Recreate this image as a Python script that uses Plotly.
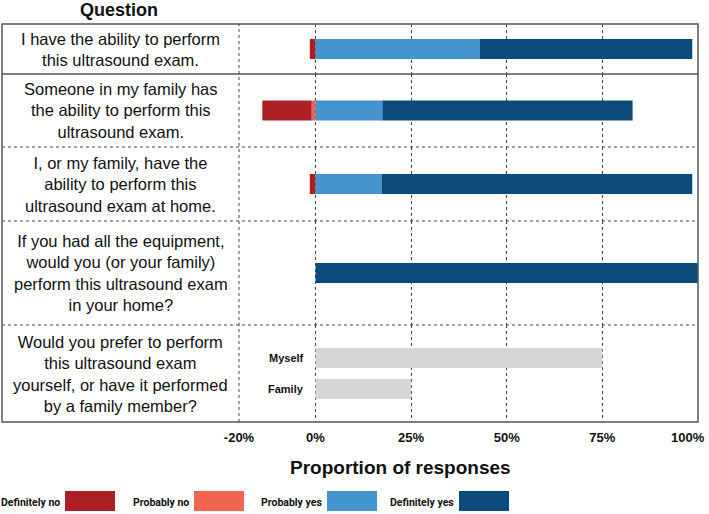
import plotly.graph_objects as go
from plotly.subplots import make_subplots

# ---------------- data ----------------
questions = [
    "I have the ability to perform<br>this ultrasound exam.",
    "Someone in my family has<br>the ability to perform this<br>ultrasound exam.",
    "I, or my family, have the<br>ability to perform this<br>ultrasound exam at home.",
    "If you had all the equipment,<br>would you (or your family)<br>perform this ultrasound exam<br>in your home?",
]
preference_question = "Would you prefer to perform<br>this ultrasound exam<br>yourself, or have it performed<br>by a family member?"

series_names = ["Definitely no", "Probably no", "Probably yes", "Definitely yes"]
definitely_no = [1.5, 12.9, 1.5, 0]
probably_no = [0, 1.0, 0, 0]
probably_yes = [43.0, 17.5, 17.3, 0]
definitely_yes = [55.5, 65.4, 81.2, 100]

pref_categories = ["Myself", "Family"]
pref_values = [75, 25]

tick_values = [-20, 0, 25, 50, 75, 100]
tick_labels = ["-20%", "0%", "25%", "50%", "75%", "100%"]

# ---------------- styles ----------------
colors = {"Definitely no": "#ab1f25", "Probably no": "#f26451",
          "Probably yes": "#4494d0", "Definitely yes": "#0d4a7c"}
gray = "#d6d6d6"
FONT = "Liberation Sans, Arial, Helvetica, sans-serif"
LEGEND_FONT = "Roboto, Liberation Sans, Arial, sans-serif"

W, H = 709, 514
ML, MR, MT, MB = 2, 11, 24, 92
PW, PH = W - ML - MR, H - MT - MB
row_px = [50, 73, 74, 104, 97]


def px_x(px):
    return (px - ML) / PW


def px_y(py):
    return (H - MB - py) / PH


fig = make_subplots(rows=5, cols=1, shared_xaxes=True, vertical_spacing=0,
                    row_heights=row_px)

# diverging stacked bars: order so that "probably" sits next to zero
stack_order = [("Probably no", probably_no, -1), ("Definitely no", definitely_no, -1),
               ("Probably yes", probably_yes, 1), ("Definitely yes", definitely_yes, 1)]
for i, q in enumerate(questions):
    for name, vals, sign in stack_order:
        fig.add_trace(go.Bar(
            y=[q], x=[sign * vals[i]], orientation="h", name=name,
            marker=dict(color=colors[name], line=dict(width=0)),
            width=0.8, showlegend=False, hoverinfo="skip"), row=i + 1, col=1)

fig.add_trace(go.Bar(
    y=pref_categories, x=pref_values, orientation="h", name="Preference",
    marker=dict(color=gray, line=dict(width=0)), width=0.645,
    showlegend=False, hoverinfo="skip"), row=5, col=1)

fig.update_layout(barmode="relative", width=W, height=H,
                  margin=dict(l=ML, r=MR, t=MT, b=MB, autoexpand=False),
                  paper_bgcolor="white", plot_bgcolor="white",
                  font=dict(family=FONT, color="#111"))

# the last tick label is drawn as a right-anchored annotation so it stays inside the figure
x_domain = [px_x(239), 1]
tick_font = dict(family=FONT, size=13, color="#111", weight="bold")
fig.update_xaxes(range=[-20, 100], domain=x_domain, tickvals=tick_values,
                 ticktext=tick_labels[:-1] + [""],
                 showgrid=True, gridcolor="#444", griddash="dot", gridwidth=1,
                 zeroline=False, showline=False, ticks="", automargin=False,
                 tickfont=tick_font)
fig.update_xaxes(ticklabelstandoff=6, row=5, col=1)

for r in range(1, 5):
    half = row_px[r - 1] / 50
    fig.update_yaxes(range=[-half, half], row=r, col=1)
half5 = row_px[4] / 2 / 31
fig.update_yaxes(range=[0.5 + half5, 0.5 - half5], row=5, col=1)
fig.update_yaxes(showticklabels=False, showgrid=False, zeroline=False, ticks="",
                 automargin=False)

shapes = []
# outer frame
shapes.append(dict(type="rect", xref="paper", yref="paper", x0=0, x1=1, y0=0, y1=1,
                   line=dict(color="#555", width=1.5)))
# row dividers
for r in range(1, 5):
    yax = fig.layout["yaxis" if r == 1 else f"yaxis{r}"]
    yb = yax.domain[0]
    shapes.append(dict(type="line", xref="paper", yref="paper", x0=0, x1=1, y0=yb, y1=yb,
                       line=dict(color="#555" if r == 1 else "#444", width=1.5 if r == 1 else 1,
                                 dash="solid" if r == 1 else "dot")))
# column divider (dotted -20 line)
shapes.append(dict(type="line", xref="paper", yref="paper", x0=x_domain[0], x1=x_domain[0],
                   y0=0, y1=1, line=dict(color="#444", width=1, dash="dot")))

annotations = []
annotations.append(dict(text=tick_labels[-1], xref="x5", yref="paper", x=tick_values[-1],
                        y=px_y(437), xanchor="right", yanchor="middle", xshift=9,
                        showarrow=False, font=tick_font))
annotations.append(dict(text="<b>Question</b>", xref="paper", yref="paper",
                        x=px_x(119), y=px_y(10), xanchor="center", yanchor="middle",
                        showarrow=False, font=dict(size=18, color="#111")))
all_q = questions + [preference_question]
for r, q in enumerate(all_q, start=1):
    yref = "y domain" if r == 1 else f"y{r} domain"
    annotations.append(dict(text=q, xref="paper", yref=yref, x=px_x(120.5), y=0.5,
                            xanchor="center", yanchor="middle", align="center",
                            showarrow=False, font=dict(size=16.5, color="#111")))
for c in pref_categories:
    annotations.append(dict(text=f"<b>{c}</b>", xref="x5", yref="y5", x=0, y=c,
                            xanchor="right", yanchor="middle", xshift=-10,
                            showarrow=False, font=dict(size=11, color="#111")))
annotations.append(dict(text="<b>Proportion of responses</b>", xref="paper", yref="paper",
                        x=px_x(400), y=px_y(467), xanchor="center", yanchor="middle",
                        showarrow=False, font=dict(size=19, color="#111")))

# legend drawn as text + box (box to the right of its label)
legend_box_left = [65, 194, 327, 459]
for name, bx in zip(series_names, legend_box_left):
    shapes.append(dict(type="rect", xref="paper", yref="paper",
                       x0=px_x(bx), x1=px_x(bx + 50), y0=px_y(511), y1=px_y(491),
                       fillcolor=colors[name], line=dict(width=0)))
    annotations.append(dict(text=f"<b>{name}</b>", xref="paper", yref="paper",
                            x=px_x(bx - 3), y=px_y(502), xanchor="right", yanchor="middle",
                            showarrow=False, font=dict(family=LEGEND_FONT, size=10.5, color="#111")))

fig.update_layout(shapes=shapes, annotations=annotations)
fig.write_html("out.html", config={"displayModeBar": False},
               post_script="document.body.style.margin='0px';document.body.style.overflow='hidden';")
